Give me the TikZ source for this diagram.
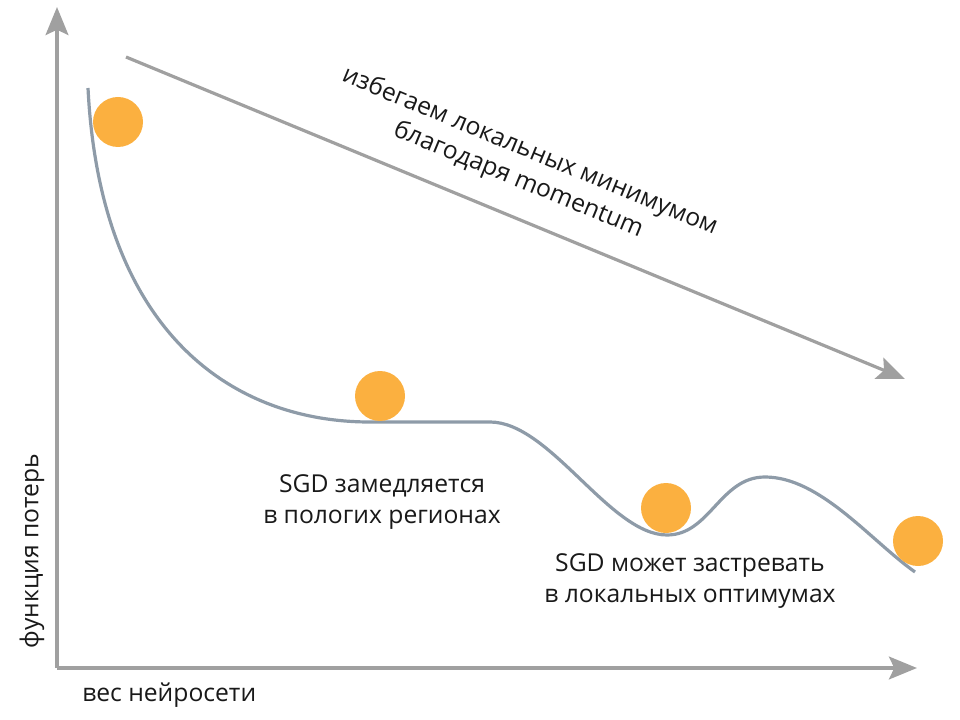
\documentclass[tikz,border=0pt]{standalone}
\usepackage{fontspec}
\setmainfont{Open Sans}
\usetikzlibrary{arrows.meta}
\definecolor{axisgray}{HTML}{A0A0A0}
\definecolor{curvegray}{HTML}{8E9BA8}
\definecolor{ballorange}{HTML}{FBB040}
\begin{document}
\begin{tikzpicture}[x=0.75pt,y=-0.75pt,
  axis/.style={draw=axisgray,line width=3pt,-{Stealth[length=21pt,width=17pt,inset=4pt]}},
  ball/.style={circle,fill=ballorange,minimum size=37.5pt,inner sep=0pt},
  lbl/.style={font=\fontsize{18.5}{23}\selectfont,align=center,text=black!90,inner sep=0pt},
  curve/.style={draw=curvegray,line width=2.4pt}]
\useasboundingbox (0,0) rectangle (960,720);
\coordinate (O) at (57,668);
\coordinate (Ytip) at (57,7);
\coordinate (Xtip) at (917,668);
\coordinate (Ds) at (126,57);
\coordinate (De) at (905,379);
\draw[axis] (O) -- (Ytip);
\draw[axis] (O) -- (Xtip);
\draw[axis,line width=2.4pt] (Ds) -- (De);
\draw[curve] (88,88) .. controls (100,330) and (230,422) .. (370,422)
  -- (490,422) .. controls (550,422) and (610,535) .. (667,535)
  .. controls (710,535) and (720,477) .. (765,477)
  .. controls (820,477) and (870,540) .. (915,572);
\node[ball] (b1) at (118,122) {};
\node[ball] (b2) at (380,396) {};
\node[ball] (b3) at (666,508) {};
\node[ball] (b4) at (918,541) {};
\node[lbl] (t1) at (382,502) {SGD замедляется\\в пологих регионах};
\node[lbl] (t2) at (690,581) {SGD может застревать\\в локальных оптимумах};
\node[lbl,rotate=-22.4] (t3) at (524,166) {избегаем локальных минимумом\\благодаря momentum};
\node[lbl,anchor=west] (xl) at (82,695) {вес нейросети};
\node[lbl,rotate=90] (yl) at (32,551) {функция потерь};
\end{tikzpicture}
\end{document}
